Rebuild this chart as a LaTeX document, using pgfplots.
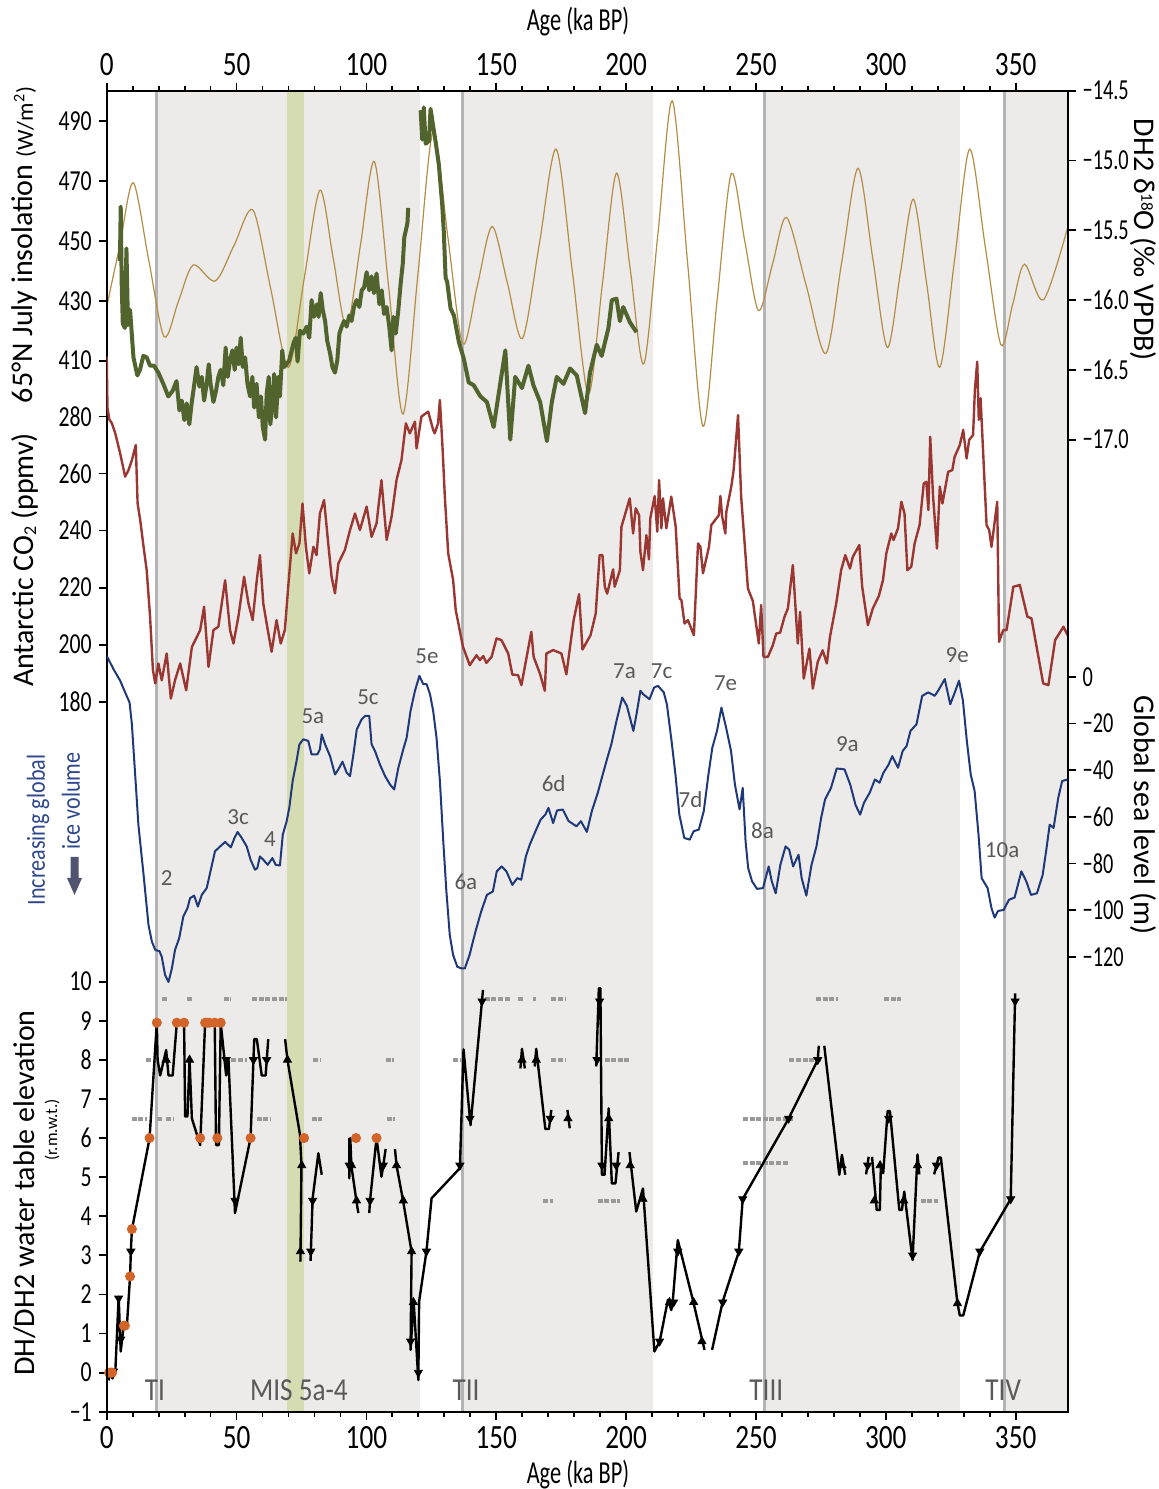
\documentclass[border=0pt]{standalone}
\usepackage{fontspec}
\setmainfont{Carlito}
\newfontfamily\tickfontL[FakeStretch=0.75]{Carlito}
\newfontfamily\tickfontR[FakeStretch=0.7]{Carlito}
\newfontfamily\tickfontX[FakeStretch=0.8]{Carlito}
\newfontfamily\condfont[FakeStretch=0.7]{Carlito}
\newfontfamily\termfont[FakeStretch=0.85]{Carlito}
\usepackage{pgfplots}
\pgfplotsset{compat=1.18}
\usetikzlibrary{arrows.meta}
\definecolor{shade}{HTML}{ECEBE9}
\definecolor{greenband}{HTML}{D6DCB2}
\definecolor{termline}{HTML}{B4B4B4}
\definecolor{insol}{HTML}{B48C46}
\definecolor{dhgreen}{HTML}{52642D}
\definecolor{co2red}{HTML}{9B3732}
\definecolor{seablue}{HTML}{1F3878}
\definecolor{txtblue}{HTML}{2F488C}
\definecolor{arrowc}{HTML}{50546E}
\definecolor{dotorange}{HTML}{D2642A}
\definecolor{lblgray}{HTML}{595959}
\newcommand\xtickf{\tickfontX\fontsize{17}{17}\selectfont}
\newcommand\ytickfL{\tickfontL\fontsize{14.5}{14.5}\selectfont}
\newcommand\ytickfR{\tickfontR\fontsize{14.5}{14.5}\selectfont}
\pgfplotsset{
  base/.style={at={(0pt,0pt)}, anchor=south west, scale only axis,
    width=480.45pt, height=660.5pt, xmin=0, xmax=370,
    /pgf/number format/assume math mode=true,
    tick align=outside, major tick length=4pt, minor tick length=2.5pt,
    every tick/.style={black, line width=0.9pt},
    axis line style={line width=0.9pt}},
  errb/.style={draw=gray!80, line width=2pt, dash pattern=on 2.5pt off 0.8pt},
  wt/.style={black, line width=1.2pt, line join=round},
}
\tikzset{
  stage/.style={text=lblgray, font=\fontsize{11.5}{12}\selectfont},
  term/.style={text=lblgray, font=\termfont\fontsize{16}{16}\selectfont},
}
\begin{document}
\begin{tikzpicture}
\useasboundingbox (-53.35pt,-38.65pt) rectangle (526.15pt,705.85pt);
% ---------------- base axis: shading + water table ----------------
\begin{axis}[base, ymin=-1, ymax=32.79, axis on top,
  xtick={0,50,...,350}, minor x tick num=4, xtick pos=left, ytick pos=left,
  ytick={-1,0,...,10}, yticklabels={−1,0,1,2,3,4,5,6,7,8,9,10},
  xticklabel style={font=\xtickf}, yticklabel style={font=\ytickfL}]
\addplot[draw=none, fill=shade] coordinates {(18.6,-1) (18.6,32.79) (120.6,32.79) (120.6,-1)} -- cycle;
\addplot[draw=none, fill=shade] coordinates {(136.7,-1) (136.7,32.79) (210.5,32.79) (210.5,-1)} -- cycle;
\addplot[draw=none, fill=shade] coordinates {(252.8,-1) (252.8,32.79) (328.6,32.79) (328.6,-1)} -- cycle;
\addplot[draw=none, fill=shade] coordinates {(345.3,-1) (345.3,32.79) (370,32.79) (370,-1)} -- cycle;
\addplot[draw=none, fill=greenband] coordinates {(69.5,-1) (69.5,32.79) (76.0,32.79) (76.0,-1)} -- cycle;
\addplot[termline, line width=1.5pt] coordinates {(19.0,-1) (19.0,32.79)};
\addplot[termline, line width=1.5pt] coordinates {(137.0,-1) (137.0,32.79)};
\addplot[termline, line width=1.5pt] coordinates {(253.1,-1) (253.1,32.79)};
\addplot[termline, line width=1.5pt] coordinates {(345.6,-1) (345.6,32.79)};
% gray error-bar clusters
\addplot[errb] coordinates {(21.2,9.55) (23.5,9.55)};
\addplot[errb] coordinates {(31,9.55) (33.5,9.55)};
\addplot[errb] coordinates {(45,9.55) (48,9.55)};
\addplot[errb] coordinates {(56,9.55) (69.5,9.55)};
\addplot[errb] coordinates {(145.6,9.55) (155.2,9.55)};
\addplot[errb] coordinates {(158.4,9.55) (160.3,9.55)};
\addplot[errb] coordinates {(164.2,9.55) (165.4,9.55)};
\addplot[errb] coordinates {(171.2,9.55) (177,9.55)};
\addplot[errb] coordinates {(273.1,9.55) (281.5,9.55)};
\addplot[errb] coordinates {(299.4,9.55) (305.8,9.55)};
\addplot[errb] coordinates {(15.2,8.0) (17.5,8.0)};
\addplot[errb] coordinates {(48,8.0) (54,8.0)};
\addplot[errb] coordinates {(79.5,8.0) (82.3,8.0)};
\addplot[errb] coordinates {(107.5,8.0) (110.5,8.0)};
\addplot[errb] coordinates {(133.4,8.0) (136.6,8.0)};
\addplot[errb] coordinates {(171.2,8.0) (177,8.0)};
\addplot[errb] coordinates {(191.7,8.0) (201.3,8.0)};
\addplot[errb] coordinates {(262.9,8.0) (275.1,8.0)};
\addplot[errb] coordinates {(9.7,6.48) (15.5,6.48)};
\addplot[errb] coordinates {(19.3,6.48) (21.2,6.48)};
\addplot[errb] coordinates {(23,6.48) (25.7,6.48)};
\addplot[errb] coordinates {(57.8,6.48) (62.9,6.48)};
\addplot[errb] coordinates {(79,6.48) (82.8,6.48)};
\addplot[errb] coordinates {(107.8,6.48) (111,6.48)};
\addplot[errb] coordinates {(245,6.48) (264.2,6.48)};
\addplot[errb] coordinates {(245,5.35) (262.2,5.35)};
\addplot[errb] coordinates {(168,4.39) (171.9,4.39)};
\addplot[errb] coordinates {(189,4.39) (197.5,4.39)};
\addplot[errb] coordinates {(313.5,4.39) (320,4.39)};
% water table segments
\addplot[wt] coordinates {(0.7,-0.2) (1.4,0.05) (2.2,-0.15) (3.3,0.0) (4.6,1.94) (5.4,0.54) (6.5,1.18) (7.8,1.22) (9.0,2.46) (9.3,3.1) (9.7,3.67) (10.3,3.86) (16.5,5.99) (19.3,8.95) (19.6,8.0) (20.6,7.6) (22.9,8.25) (23.8,7.6) (25.4,7.6) (27,8.95) (29.8,8.95) (30.2,6.55) (31.1,6.55) (31.9,8.0) (32.8,6.5) (36,5.82) (37.9,8.95) (39.6,8.95) (41.6,8.95) (42.1,5.82) (43.2,5.82) (43.9,8.95) (46,7.6) (46.9,8.0) (49.4,4.08) (55.4,6) (56.8,8.53) (57.8,8.53) (59.7,7.6) (61.2,7.6) (62.2,8.53)};
\addplot[wt] coordinates {(68.7,8.53) (69.6,8.0) (74.4,6.1) (75.0,5.3) (74.6,2.84)};
\addplot[wt] coordinates {(78.5,2.86) (79.3,4.46) (81.5,5.61) (82.8,5.06)};
\addplot[wt] coordinates {(93.4,6.0) (93.4,4.97) (93.8,6.0) (94.2,5.3) (96.2,4.37) (96.9,4.08)};
\addplot[wt] coordinates {(101.1,4.08) (101.4,4.4) (103.9,6.0) (105.8,5.01) (106.5,5.3) (107.4,5.72)};
\addplot[wt] coordinates {(111,5.72) (111.6,5.3) (114.2,4.37) (117.4,3.09) (117,0.58) (118.2,1.82) (120,-0.19) (120.3,1.82) (123.1,3.09) (125.1,4.46) (136,5.23) (137.4,8.27) (140.1,6.33) (144.9,9.79)};
\addplot[wt] coordinates {(159.3,7.78) (159.9,8.28) (161,7.78)};
\addplot[wt] coordinates {(164.8,7.83) (165.4,8.28) (168.9,6.23) (170.3,6.23) (171.2,6.72)};
\addplot[wt] coordinates {(177.4,6.72) (178.3,6.25)};
\addplot[wt] coordinates {(188.5,7.83) (189.5,9.83) (190.1,9.83) (190.7,5.06) (191.7,5.06) (193.3,6.76) (194.5,4.84) (195.9,4.84) (197.1,5.64)};
\addplot[wt] coordinates {(201.3,5.64) (203.9,4.12) (206.5,4.71) (210.9,0.54) (212.9,0.79) (216.1,1.86) (217.4,1.6) (218,1.86) (219.9,3.39) (225.7,1.86) (230.2,0.58)};
\addplot[wt] coordinates {(233.1,0.58) (237.2,1.82) (243.4,3.09) (244.9,4.44) (262.6,6.5) (273.8,8.0) (274.2,8.36)};
\addplot[wt] coordinates {(276.3,8.36) (282.1,5.06) (283.1,5.57) (284.4,5.06)};
\addplot[wt] coordinates {(292.4,5.07) (293.4,5.52)};
\addplot[wt] coordinates {(294.7,5.52) (296.5,4.16) (297.7,4.16) (298.1,5.31) (299,5.1) (300.7,6.69) (301.6,6.69) (305.2,4.16) (306.2,4.16) (307.1,4.63) (310.3,2.88) (312.2,5.58) (312.9,5.07)};
\addplot[wt] coordinates {(318.6,5.07) (320.3,5.5) (321.2,5.5) (327.6,1.77) (328.5,1.46) (329.8,1.46) (336.2,3.09) (348.1,4.44) (349.8,9.7)};
% direction triangles
\addplot[only marks, mark=triangle*, mark size=2.3pt, black] coordinates {(22.9,8.0) (31.9,8.0) (69.6,8.0) (75.1,5.3) (74.6,3.1) (94.3,5.3) (96.2,4.4) (111.6,5.3) (114.2,4.4) (117.4,3.1) (118.1,1.8) (159.9,8.0) (165.4,8.0) (177.6,6.5) (193.3,6.5) (201.6,5.3) (206.5,4.44) (216.7,1.8) (226,1.8) (229.2,0.8) (283.1,5.3) (295.6,4.4) (297.8,5.3) (306.9,4.4) (312.2,5.3) (327.6,1.77)};
\addplot[only marks, mark=triangle*, mark size=2.3pt, black, mark options={rotate=180}] coordinates {(2.6,0.03) (4.6,1.9) (5.4,0.85) (9.3,3.1) (46,8.0) (49.4,4.4) (56.5,8.0) (61.6,8.0) (78.6,3.1) (79.3,4.4) (93.4,5.3) (101.4,4.4) (106.5,5.3) (117.0,0.8) (120,0.0) (123.1,3.1) (136,5.3) (139.9,6.5) (144.5,9.5) (170.8,6.5) (188.8,8.0) (189.8,9.5) (190.7,5.3) (196.2,5.3) (212.9,0.8) (218.3,1.8) (219.9,3.1) (237.2,1.8) (243.4,3.1) (244.9,4.44) (262.6,6.5) (273.8,8.0) (293,5.3) (301.1,6.5) (310.3,3.0) (319.5,5.3) (336.2,3.1) (348.1,4.44) (349.8,9.5)};
% dated points (orange)
\addplot[only marks, mark=*, mark size=2.3pt, dotorange] coordinates {(0.9,0.0) (1.6,0.0) (2.1,0.0) (6.6,1.2) (7.0,1.2) (9.0,2.46) (9.7,3.67) (16.5,6.0) (19.3,8.95) (27,8.95) (29.8,8.95) (37.9,8.95) (38.8,8.95) (39.6,8.95) (41.6,8.95) (43.9,8.95) (36,6.0) (42.6,6.0) (55.4,6.0) (76.0,6.0) (96.0,6.0) (103.9,6.0)};
\node[term] at (axis cs:18.6,-0.44) {TI};
\node[term] at (axis cs:74,-0.44) {MIS 5a-4};
\node[term] at (axis cs:138.4,-0.44) {TII};
\node[term] at (axis cs:254,-0.44) {TIII};
\node[term] at (axis cs:345.2,-0.44) {TIV};
\end{axis}
% ---------------- top axis ----------------
\begin{axis}[base, ymin=0, ymax=1, axis x line*=top, axis y line=none,
  xtick={0,50,...,350}, minor x tick num=4, xticklabel style={font=\xtickf}]
\addplot[draw=none] coordinates {(0,0.5)};
\end{axis}
% ---------------- insolation (left) ----------------
\begin{axis}[base, ymin=59.2, ymax=500.11, axis y line*=left, axis x line=none,
  ytick={410,430,...,490}, yticklabel style={font=\ytickfL}]
\addplot[insol, line width=0.6pt, smooth] coordinates {(0,428) (5.1,448.7) (10.2,469.4) (16.15,443.7) (22.1,418) (27.7,430) (33.3,441.9) (41.8,436.6) (49.05,448.5) (56.3,460.3) (63.15,434) (70.0,407.8) (76.05,437.4) (82.1,466.9) (87.25,444) (92.4,421.1) (97.75,448.8) (103.1,476.4) (108.6,434.3) (114.1,392.2) (119.9,439.4) (125.7,486.5) (131.4,451) (137.1,415.6) (142.75,435.2) (148.4,454.8) (154.25,436.1) (160.1,417.4) (166.6,449) (173.1,480.6) (179.3,439.8) (185.5,398.9) (190.9,435.8) (196.3,472.6) (201.55,440.8) (206.8,408.9) (212.3,452.8) (217.8,496.7) (223.7,442.4) (229.6,388.1) (235.05,430.3) (240.5,472.4) (245.75,449.6) (251,426.7) (256.4,442.3) (261.8,457.8) (269.35,435.1) (276.9,412.4) (283.1,443.3) (289.3,474.2) (294.95,444.3) (300.6,414.4) (305.6,439.2) (310.6,463.9) (315.7,435.9) (320.8,407.8) (326.55,444.2) (332.3,480.6) (338.3,448) (344.3,415.3) (348.85,428.8) (353.4,442.2) (360.7,430.3) (370,454.4)};
\end{axis}
% ---------------- CO2 (left) ----------------
\begin{axis}[base, ymin=-68.95, ymax=394.24, axis y line*=left, axis x line=none,
  ytick={180,200,...,280}, yticklabel style={font=\ytickfL}]
\addplot[co2red, line width=1.2pt, line join=round] coordinates {(0,301) (0.3,283) (1.0,279) (2.0,277.6) (3.3,274.1) (5.2,267) (7.1,258.9) (8.4,261.2) (9.7,264.7) (11.2,270) (11.9,249.5) (12.9,243.7) (14.2,234.3) (15.4,226.1) (16.7,209.8) (17.8,191.1) (18.7,186.4) (19.9,193.4) (21.2,187.5) (23.1,196.9) (24.7,181.1) (26.3,187.5) (28.3,193.4) (30.6,184) (32.8,199.2) (34.7,202.7) (36,205.1) (37.5,213.3) (39.2,192.2) (41.1,205.1) (43,206.3) (45.6,222.6) (47.5,205.1) (48.8,200.4) (50.7,209.8) (52.9,223.8) (54.6,214.4) (56.2,208.6) (57.8,222.6) (59,231.4) (60.3,214.4) (61.6,207.4) (63.5,197.5) (65.4,208.6) (67,200.4) (68.6,205.1) (69.9,220.3) (71.6,239) (72.9,232) (74.2,235.5) (75.4,249.5) (76.7,234.3) (78,225) (79.6,234.3) (80.8,231.4) (82.1,246) (83.7,250.7) (85.3,235.5) (86.6,223.8) (87.9,218) (89.2,228.5) (91.7,233.2) (93.7,240.2) (95.6,246) (97.5,240.2) (100.1,248.4) (102,237.8) (103.9,242.5) (105.8,257.7) (107.8,236.7) (109.7,244.9) (111.6,257.7) (113.5,264.7) (115.2,277.6) (116.7,274.1) (118.7,278.2) (119.3,268.8) (121.2,280) (123.8,281.7) (125.7,275.3) (126.3,274.1) (127.6,277.6) (128.3,285.8) (129.3,269.4) (130.2,251.9) (131.5,232) (133.4,222.6) (134.4,212.1) (137.2,199.2) (139.8,192.8) (142.4,196.3) (143.7,194.6) (145,196) (146.2,193.6) (148.2,195.7) (150.1,202.2) (152,201.6) (154.6,196.9) (156.2,189.5) (158.4,189.3) (159.7,185.8) (163.5,204.5) (164.4,195.7) (166.8,189.9) (168.7,183.8) (169.3,196.9) (171.9,198.1) (175.1,196.9) (177,189.6) (179.8,208.6) (181.9,217.7) (183.2,198.3) (186.3,203.3) (188.3,210.9) (189.8,231.4) (190.9,231.4) (191.8,220.3) (192.7,217.9) (195,226.4) (195.6,220.3) (197.6,226.1) (198.2,241.3) (201.4,251.3) (202.7,239) (203.7,247.8) (205,245.4) (205.5,232.6) (206.5,226.1) (207.8,238.4) (208.8,229.9) (209.3,244.2) (211,252.1) (212,239.6) (212.7,257.7) (213.6,240.8) (214.2,251.3) (215.5,240.8) (217.4,251.9) (219.1,241.3) (220.6,216.2) (221.3,215.6) (222.5,207.4) (223.8,208.6) (226.1,203.3) (227.7,235.5) (228.6,234.3) (229.6,225) (231.9,234.3) (232.8,241.9) (235.7,245.4) (236.3,252.1) (237,244.9) (238.2,239) (238.6,246.6) (240.5,255.4) (241.4,261.2) (243.1,280.5) (244.3,251.9) (245.6,236.1) (246.9,219.7) (248.8,215.3) (251.1,200.4) (252,213.9) (252.9,195.7) (254.6,195.7) (256.5,199.8) (257.8,203.9) (259.3,204.2) (261,209.8) (262.3,212.7) (264.2,227.9) (266.1,200.4) (267,211.5) (268.4,188.1) (270.6,198.6) (271.9,184.6) (273.8,194) (275.7,198) (277.3,193.4) (278.5,202.7) (280.9,214.4) (282.8,226.1) (284.4,231.4) (286.2,226.7) (287.3,230.8) (289.8,234.9) (290.9,220.3) (293.1,206.8) (295,212.7) (297.3,217) (298.9,222.6) (300.2,232) (302.1,239) (303,236.7) (304.7,240.8) (306,250.1) (307.2,246) (308.3,226.1) (309.8,227.3) (311.1,235.5) (313,241.9) (314.6,256.5) (315.6,257.1) (316.4,247.2) (317.1,272.9) (318.2,251.9) (319.7,233.7) (320.8,255.4) (321.8,249.5) (324,260.6) (325.6,261.2) (326.5,265.9) (328.5,270) (329.8,275.3) (331.1,265.3) (332.1,271.8) (333.6,273.5) (334.3,289.3) (335.2,299.2) (335.8,278.8) (336.5,286.4) (338.8,241.9) (339.8,240.2) (340.7,234.3) (342.9,250.1) (343.6,201) (345.2,205.1) (346.5,205.1) (349.1,220.3) (351.6,220.9) (354.5,209.8) (356.1,209.2) (360.6,186.4) (362.6,185.8) (365.2,201.6) (368.4,206.3) (370,203.3)};
\end{axis}
% ---------------- DH2 d18O (right) ----------------
\begin{axis}[base, ymin=-23.963, ymax=-14.5, axis y line*=right, axis x line=none,
  ytick={-17,-16.5,-16,-15.5,-15,-14.5}, yticklabels={−17.0,−16.5,−16.0,−15.5,−15.0,−14.5},
  yticklabel style={font=\ytickfR}]
\addplot[dhgreen, line width=2pt, line join=round] coordinates {(5.1,-15.72) (5.4,-15.33) (5.8,-15.9) (6.2,-16.17) (7.0,-16.2) (7.6,-15.63) (8.2,-16.18) (9.0,-16.07) (10.3,-16.41) (11.8,-16.54) (12.8,-16.50) (14.1,-16.40) (15.4,-16.41) (16.7,-16.47) (18.2,-16.47) (19.9,-16.52) (21.8,-16.60) (23.7,-16.69) (25.4,-16.65) (26.9,-16.58) (28.0,-16.79) (28.9,-16.72) (29.9,-16.86) (30.8,-16.74) (31.8,-16.89) (32.7,-16.74) (33.6,-16.62) (34.6,-16.48) (35.7,-16.62) (36.6,-16.55) (37.5,-16.72) (38.5,-16.60) (39.3,-16.46) (40.0,-16.60) (41.1,-16.73) (42.1,-16.65) (43.0,-16.55) (43.9,-16.50) (44.9,-16.61) (45.8,-16.34) (46.6,-16.55) (47.5,-16.43) (48.4,-16.36) (49.3,-16.50) (50.0,-16.34) (50.8,-16.46) (51.6,-16.27) (52.4,-16.48) (53.3,-16.41) (54.2,-16.60) (55.2,-16.69) (56.1,-16.55) (56.8,-16.77) (57.7,-16.60) (58.6,-16.84) (59.4,-16.69) (60.1,-16.91) (61.0,-17.00) (61.6,-16.67) (62.4,-16.55) (63.0,-16.89) (63.8,-16.74) (64.5,-16.53) (65.2,-16.84) (66.1,-16.55) (66.7,-16.69) (67.6,-16.36) (68.3,-16.48) (69.3,-16.46) (70.3,-16.43) (71.9,-16.31) (72.8,-16.27) (73.5,-16.44) (74.4,-16.22) (75.7,-16.24) (77.0,-16.19) (78.0,-16.27) (78.9,-16.00) (79.8,-16.12) (80.9,-16.03) (81.6,-16.12) (82.4,-15.95) (83.2,-16.07) (84.1,-16.15) (84.9,-16.29) (86.0,-16.38) (86.9,-16.48) (87.9,-16.52) (88.8,-16.43) (89.6,-16.24) (90.5,-16.19) (91.4,-16.15) (92.4,-16.19) (93.4,-16.11) (94.3,-16.15) (95.2,-16.05) (96.2,-16.00) (97.3,-16.05) (98.2,-15.93) (99.1,-15.91) (100.1,-15.80) (101.1,-15.93) (102.0,-15.83) (102.9,-15.95) (103.9,-15.81) (105.0,-16.03) (105.9,-15.93) (106.8,-16.10) (107.8,-16.05) (108.8,-16.19) (109.7,-16.36) (110.4,-16.12) (111.3,-16.24) (112.3,-16.07) (113.2,-15.88) (114.0,-15.74) (114.6,-15.55) (115.8,-15.45) (116.1,-15.34)};
\addplot[dhgreen, line width=2pt, line join=round] coordinates {(120.9,-14.64) (121.5,-14.85) (122.1,-14.62) (122.8,-14.88) (124.1,-14.86) (124.7,-14.63) (126.0,-14.79) (126.6,-14.86) (127.9,-15.03) (129.2,-15.32) (129.8,-15.51) (130.5,-15.84) (131.1,-15.87) (132.4,-16.06) (133.7,-16.11) (135.6,-16.30) (137.5,-16.42) (139.4,-16.59) (141.3,-16.61) (143.9,-16.69) (146.4,-16.73) (149,-16.91) (151.6,-16.59) (153.5,-16.36) (155.4,-17.0) (157.3,-16.55) (159.9,-16.63) (162.4,-16.47) (164.3,-16.61) (166.9,-16.73) (169.5,-17.01) (171.4,-16.73) (173.3,-16.55) (175.9,-16.6) (178.4,-16.49) (181,-16.54) (184.2,-16.81) (186.1,-16.52) (188.7,-16.32) (190.6,-16.4) (193.2,-16.2) (194.5,-16.0) (196.3,-15.99) (197.6,-16.15) (198.9,-16.05) (201.5,-16.16) (204,-16.23)};
\end{axis}
% ---------------- sea level (right) ----------------
\begin{axis}[base, ymin=-315, ymax=251.2, axis y line*=right, axis x line=none,
  ytick={-120,-100,...,0}, yticklabels={−120,−100,−80,−60,−40,−20,0},
  yticklabel style={font=\ytickfR}]
\addplot[seablue, line width=1.0pt, line join=round] coordinates {(0,9.0) (2.6,3.3) (5.2,-1.7) (7.1,-6.7) (8.8,-11) (9.7,-20.4) (10.96,-41.9) (12.2,-63.4) (14.2,-84.9) (16.1,-106.4) (17.4,-113.5) (18.7,-117.1) (20.3,-117.6) (21.2,-120) (22.5,-127.9) (23.8,-130.8) (25.1,-125) (26.3,-117.1) (27.9,-112.1) (29.5,-102.8) (31.1,-99.2) (32.1,-94.9) (33.7,-93.8) (35.1,-98.5) (36.6,-93.5) (38.5,-90.6) (39.8,-84.2) (41.7,-74.8) (43.7,-72.7) (45.6,-70.8) (47.8,-73.1) (49.2,-69.1) (50.4,-66.5) (52,-69.1) (53.9,-72.7) (55.4,-78.4) (57.1,-82.7) (58,-82) (59,-77) (60.3,-78.4) (62,-80.6) (63.8,-77.7) (65.1,-80.6) (66.7,-80.9) (67.8,-67.7) (69.3,-61.9) (70.3,-56.2) (71.6,-44.7) (73.1,-36.1) (74.2,-29) (75.7,-26.8) (77.6,-27.5) (78.9,-33.3) (81.1,-33.3) (82.1,-31.1) (82.8,-24.7) (84.1,-29) (86,-34) (87.9,-41.9) (89.2,-39.7) (90.8,-36.4) (92.4,-41.1) (93.7,-42.6) (95,-33.3) (96.3,-22.5) (98.2,-18.2) (99.5,-16.8) (101.1,-16.8) (102,-29) (103.3,-31.8) (105.2,-37.6) (107.2,-42.6) (109.1,-46.2) (110.7,-48.3) (112.3,-39) (114.2,-31.1) (115.5,-26.1) (117,-14.6) (118.7,-6) (120.4,0.4) (121.9,-3.2) (123.2,-3.2) (124.5,-7.5) (125.7,-14.6) (127,-26.1) (128.3,-44.7) (129.6,-70.5) (130.8,-92) (132.1,-110.7) (133.4,-119.3) (135,-124.3) (136.6,-125) (137.9,-125) (139.7,-119.3) (142.0,-109.2) (144.2,-100.6) (146.4,-93.5) (148.7,-92) (150.2,-83.4) (152.1,-81.3) (153.9,-83.4) (156.2,-89.2) (158.1,-86.3) (159.6,-87) (161.4,-77) (162.9,-72) (165.1,-66.2) (167.1,-61.2) (168.9,-59.1) (170.1,-56.2) (171.9,-62.7) (173.4,-57.3) (175.6,-56.9) (177.9,-61.9) (180.9,-64.1) (182.6,-61.9) (184.9,-66.5) (186.8,-57.6) (189.1,-49.7) (191.0,-41.9) (192.8,-34.7) (194.3,-29) (196.3,-18.9) (198.5,-8.9) (200.3,-12.5) (202.8,-23.2) (204.0,-16.1) (205.5,-6) (206.6,-7.5) (209.0,-9.6) (210.8,-4.6) (212.3,-3.9) (214.5,-6.7) (215.7,-11.8) (217.5,-27.5) (219.0,-41.9) (220.5,-59.1) (222.4,-69.1) (224.5,-69.8) (226.0,-66.2) (228.0,-65.5) (229.9,-57.6) (231.7,-41.9) (233.2,-30.4) (235.0,-23.2) (236.7,-13.2) (238.5,-21.8) (240.4,-31.8) (241.9,-46.2) (243.7,-56.9) (244.9,-47.6) (246.0,-70.5) (247.0,-82) (248.5,-87.7) (250.4,-90.9) (252.7,-90.6) (254.9,-81.3) (256.1,-87.7) (257.6,-92.8) (259.4,-80.6) (261.4,-72.7) (262.8,-74.1) (264.3,-81.3) (266.4,-76.3) (267.6,-86.3) (269.4,-93.8) (271.4,-80.6) (273.3,-72.7) (275.1,-60.5) (276.6,-52.6) (278.9,-47.6) (281.1,-39.3) (284.1,-39.7) (286.3,-46.2) (288.3,-54.8) (290.1,-59.1) (291.6,-54) (293.8,-49.7) (295.8,-44) (297.6,-45.4) (299.1,-41.1) (301.0,-37.8) (302.5,-34) (304.7,-39) (306.5,-31.8) (308.0,-29.7) (309.5,-23.2) (311.8,-20.4) (314.0,-8.2) (316.3,-6.7) (317.8,-7.5) (318.8,-8.2) (320.3,-5.7) (322.7,-1) (324.8,-11.8) (326.3,-7.5) (328.2,-1.7) (329.7,-10.3) (331.2,-27.5) (332.7,-41.9) (334.2,-49) (335.7,-67.7) (336.9,-86.3) (339.2,-90.6) (340.7,-99.2) (341.9,-103.2) (343.2,-100.4) (345.4,-99.9) (347.4,-95.6) (349.6,-94.6) (352.2,-83.4) (354.1,-87.7) (355.9,-93.5) (358.2,-92.8) (360.4,-84.9) (361.9,-73.4) (363.1,-63.4) (364.6,-64.8) (366.4,-51.9) (367.9,-44.7) (370,-44)};
\node[stage] at (axis cs:23.1,-86.3) {2};
\node[stage] at (axis cs:50.6,-60) {3c};
\node[stage] at (axis cs:62.9,-69.7) {4};
\node[stage] at (axis cs:79.4,-16.8) {5a};
\node[stage] at (axis cs:100.6,-8.7) {5c};
\node[stage] at (axis cs:123.3,8.7) {5e};
\node[stage] at (axis cs:138.3,-88) {6a};
\node[stage] at (axis cs:172.1,-46) {6d};
\node[stage] at (axis cs:199.4,2.4) {7a};
\node[stage] at (axis cs:213.7,2.4) {7c};
\node[stage] at (axis cs:224.8,-52.5) {7d};
\node[stage] at (axis cs:238.3,-2.7) {7e};
\node[stage] at (axis cs:252.5,-66) {8a};
\node[stage] at (axis cs:285.2,-28.9) {9a};
\node[stage] at (axis cs:327.5,9.3) {9e};
\node[stage] at (axis cs:344.8,-74.3) {10a};
\end{axis}
% ---------------- outer labels ----------------
\begin{scope}[x=1pt,y=1pt]
\node[font=\condfont\fontsize{16}{16}\selectfont] at (235.65,694.85) {Age (ka BP)};
\node[font=\condfont\fontsize{16}{16}\selectfont] at (235.65,-31.5) {Age (ka BP)};
\node[rotate=90, font=\fontsize{15}{15}\selectfont] at (-40.85,583.35) {65°N July insolation {\fontsize{11.5}{12}\selectfont(W/m\textsuperscript{2})}};
\node[rotate=90, font=\fontsize{15}{15}\selectfont] at (-40.85,425.85) {Antarctic CO{\fontsize{9}{9}\selectfont\raisebox{-0.3ex}{2}} (ppmv)};
\node[rotate=90, font=\fontsize{15}{15}\selectfont] at (-40.85,109.35) {DH/DH2 water table elevation};
\node[rotate=90, font=\fontsize{8.5}{9}\selectfont] at (-27.35,140.85) {(r.m.w.t.)};
\node[rotate=90, text=txtblue, font=\termfont\fontsize{13}{13}\selectfont] at (-34.35,290.85) {Increasing global};
\node[rotate=90, text=txtblue, font=\termfont\fontsize{13}{13}\selectfont] at (-17.85,305.35) {ice volume};
\fill[arrowc] (-18.1,277.35) -- (-14.1,277.35) -- (-14.1,266.85) -- (-12.35,266.85) -- (-16.1,258.35) -- (-19.85,266.85) -- (-18.1,266.85) -- cycle;
\node[rotate=-90, font=\fontsize{15}{15}\selectfont] at (518.15,585.85) {DH2 δ{\fontsize{8.5}{9}\selectfont\raisebox{0.9ex}{18}}O (‰ VPDB)};
\node[rotate=-90, font=\fontsize{15}{15}\selectfont] at (518.15,298.35) {Global sea level (m)};
\end{scope}
\end{tikzpicture}
\end{document}
